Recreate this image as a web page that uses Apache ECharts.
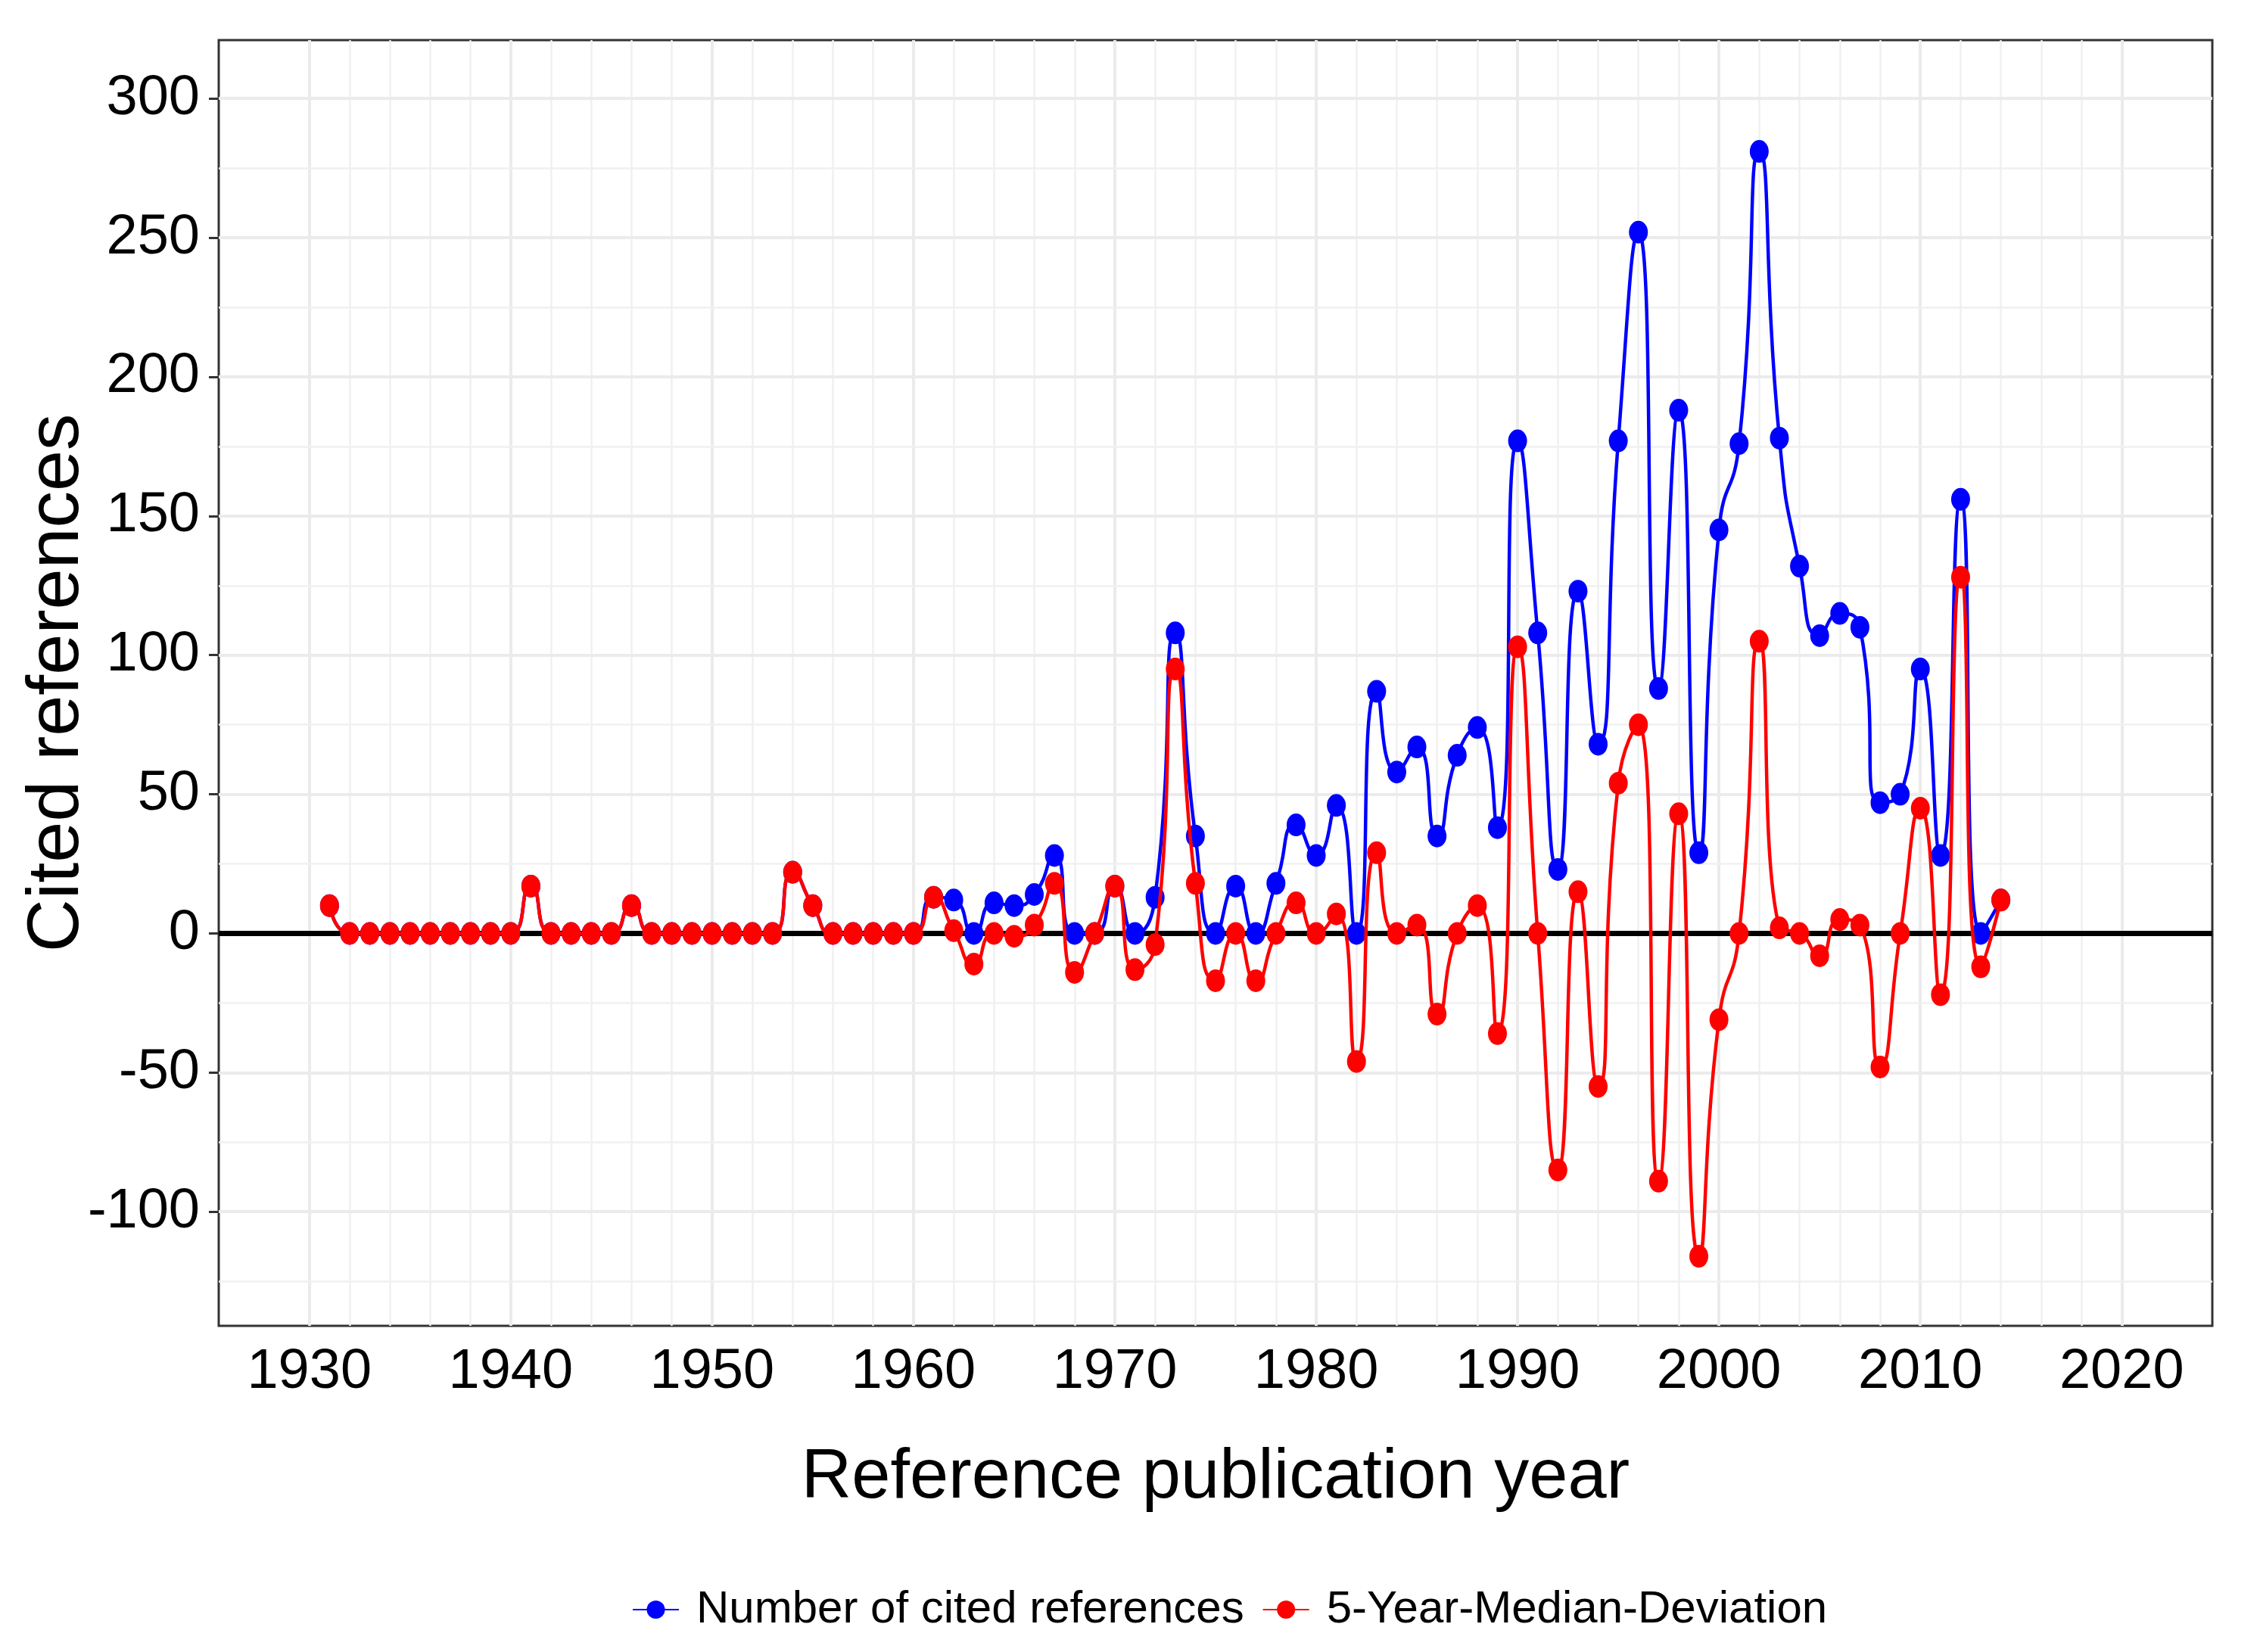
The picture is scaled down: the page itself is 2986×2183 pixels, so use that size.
<!DOCTYPE html>
<html>
<head>
<meta charset="utf-8">
<title>Cited references per publication year</title>
<script src="https://cdn.jsdelivr.net/npm/echarts@6/dist/echarts.min.js"></script>
<style>
  html, body { margin: 0; padding: 0; background: #fff; }
  #mycharts { width: 2986px; height: 2183px; }
</style>
</head>
<body>
<div id="mycharts"></div>
<script>
// reference publication years
var years = [
  1931, 1932, 1933, 1934, 1935, 1936, 1937, 1938, 1939, 1940,
  1941, 1942, 1943, 1944, 1945, 1946, 1947, 1948, 1949, 1950,
  1951, 1952, 1953, 1954, 1955, 1956, 1957, 1958, 1959, 1960,
  1961, 1962, 1963, 1964, 1965, 1966, 1967, 1968, 1969, 1970,
  1971, 1972, 1973, 1974, 1975, 1976, 1977, 1978, 1979, 1980,
  1981, 1982, 1983, 1984, 1985, 1986, 1987, 1988, 1989, 1990,
  1991, 1992, 1993, 1994, 1995, 1996, 1997, 1998, 1999, 2000,
  2001, 2002, 2003, 2004, 2005, 2006, 2007, 2008, 2009, 2010,
  2011, 2012, 2013, 2014
];
// number of cited references (blue)
var cited = [
  10, 0, 0, 0, 0, 0, 0, 0, 0, 0,
  17, 0, 0, 0, 0, 10, 0, 0, 0, 0,
  0, 0, 0, 22, 10, 0, 0, 0, 0, 0,
  13, 12, 0, 11, 10, 14, 28, 0, 0, 17,
  0, 13, 108, 35, 0, 17, 0, 18, 39, 28,
  46, 0, 87, 58, 67, 35, 64, 74, 38, 177,
  108, 23, 123, 68, 177, 252, 88, 188, 29, 145,
  176, 281, 178, 132, 107, 115, 110, 47, 50, 95,
  28, 156, 0, 12
];
// 5-year-median-deviation (red)
var deviation = [
  10, 0, 0, 0, 0, 0, 0, 0, 0, 0,
  17, 0, 0, 0, 0, 10, 0, 0, 0, 0,
  0, 0, 0, 22, 10, 0, 0, 0, 0, 0,
  13, 1, -11, 0, -1, 3, 18, -14, 0, 17,
  -13, -4, 95, 18, -17, 0, -17, 0, 11, 0,
  7, -46, 29, 0, 3, -29, 0, 10, -36, 103,
  0, -85, 15, -55, 54, 75, -89, 43, -116, -31,
  0, 105, 2, 0, -8, 5, 3, -48, 0, 45,
  -22, 128, -12, 12
];
// tick labels
var xTicks = [1930, 1940, 1950, 1960, 1970, 1980, 1990, 2000, 2010, 2020];
var yTicks = [-100, -50, 0, 50, 100, 150, 200, 250, 300];
// grid lines
var xMinorGrid = [1932, 1934, 1936, 1938, 1942, 1944, 1946, 1948, 1952, 1954, 1956, 1958,
  1962, 1964, 1966, 1968, 1972, 1974, 1976, 1978, 1982, 1984, 1986, 1988,
  1992, 1994, 1996, 1998, 2002, 2004, 2006, 2008, 2012, 2014, 2016, 2018];
var yMinorGrid = [-125, -75, -25, 25, 75, 125, 175, 225, 275];

var font = "'Liberation Sans', Arial, sans-serif";
var gridColor = "#ebebeb";

function pairs(vals) {
  return years.map(function (y, i) { return [y, vals[i]]; });
}

var gridLines = [];
xTicks.forEach(function (v) {
  gridLines.push({ xAxis: v, lineStyle: { color: gridColor, width: 4 } });
});
xMinorGrid.forEach(function (v) {
  gridLines.push({ xAxis: v, lineStyle: { color: "#f0f0f0", width: 2.5 } });
});
yTicks.forEach(function (v) {
  gridLines.push({ yAxis: v, lineStyle: { color: gridColor, width: 4 } });
});
yMinorGrid.forEach(function (v) {
  gridLines.push({ yAxis: v, lineStyle: { color: "#f0f0f0", width: 2.5 } });
});

var mycharts = echarts.init(document.getElementById("mycharts"));

var option = {
  animation: false,
  backgroundColor: "#fff",
  grid: {
    left: 289,
    top: 53,
    width: 2634,
    height: 1699,
    show: true,
    borderColor: "#333",
    borderWidth: 3,
    backgroundColor: "#fff"
  },
  legend: {
    data: ["Number of cited references", "5-Year-Median-Deviation"],
    left: 830,
    top: 2092,
    itemWidth: 61,
    itemHeight: 30,
    itemGap: 24,
    textStyle: {
      fontSize: 60,
      fontFamily: font,
      color: "#000",
      padding: [0, 0, 0, 18]
    }
  },
  xAxis: {
    type: "value",
    min: 1925.5,
    max: 2024.5,
    name: "Reference publication year",
    nameLocation: "middle",
    nameGap: 156,
    nameTextStyle: { fontSize: 92, fontFamily: font, color: "#000" },
    axisLine: { show: false },
    splitLine: { show: false },
    axisTick: {
      show: true,
      customValues: xTicks,
      length: 13,
      lineStyle: { color: "#333", width: 3 }
    },
    axisLabel: {
      customValues: xTicks,
      formatter: function (v) { return String(v); },
      fontSize: 74,
      fontFamily: font,
      color: "#000",
      margin: 25
    }
  },
  yAxis: {
    type: "value",
    min: -141,
    max: 321,
    name: "Cited references",
    nameLocation: "middle",
    nameGap: 164,
    nameMoveOverlap: false,
    nameTextStyle: { fontSize: 97, fontFamily: font, color: "#000" },
    axisLine: { show: false },
    splitLine: { show: false },
    axisTick: {
      show: true,
      customValues: yTicks,
      length: 13,
      lineStyle: { color: "#333", width: 3 }
    },
    axisLabel: {
      customValues: yTicks,
      fontSize: 74,
      fontFamily: font,
      color: "#000",
      margin: 25
    }
  },
  series: [
    {
      // background grid
      type: "line",
      data: [],
      silent: true,
      markLine: {
        silent: true,
        z: 1,
        symbol: ["none", "none"],
        label: { show: false },
        lineStyle: { type: "solid" },
        data: gridLines
      }
    },
    {
      // zero line
      type: "line",
      data: [],
      silent: true,
      markLine: {
        silent: true,
        z: 1.5,
        symbol: ["none", "none"],
        label: { show: false },
        lineStyle: { type: "solid", color: "#000", width: 7 },
        data: [{ yAxis: 0 }]
      }
    },
    {
      name: "Number of cited references",
      type: "line",
      z: 3,
      data: pairs(cited),
      smooth: 0.6,
      symbol: "circle",
      symbolSize: [25, 30],
      itemStyle: { color: "#0000ff" },
      lineStyle: { color: "#0000ff", width: 4.5 }
    },
    {
      name: "5-Year-Median-Deviation",
      type: "line",
      z: 4,
      data: pairs(deviation),
      smooth: 0.6,
      symbol: "circle",
      symbolSize: [25, 30],
      itemStyle: { color: "#ff0000" },
      lineStyle: { color: "#ff0000", width: 4.5 }
    }
  ]
};
mycharts.setOption(option);
</script>
</body>
</html>
